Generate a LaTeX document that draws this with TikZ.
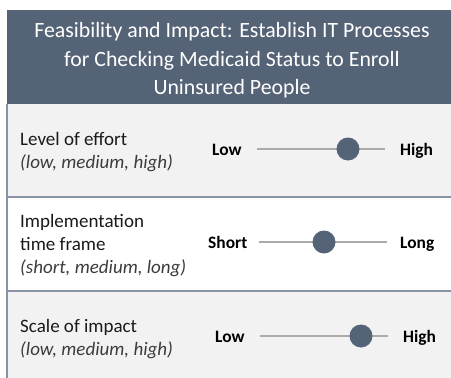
\documentclass[tikz,border=0pt]{standalone}
\usepackage{fontspec}
\setmainfont{Carlito}
\definecolor{hdr}{HTML}{556377}
\definecolor{rowgray}{HTML}{F2F2F2}
\definecolor{sepc}{HTML}{8794A8}
\definecolor{track}{HTML}{ABABAB}
\definecolor{txt}{HTML}{1A1A1A}
\begin{document}
\begin{tikzpicture}[x=1pt,y=-1pt,
  hdrtext/.style={text=white,font=\fontsize{21.8}{28.5}\selectfont,align=center,inner sep=0pt},
  lbl/.style={anchor=base west,text=txt,font=\fontsize{19}{23}\selectfont,inner sep=0pt},
  sub/.style={anchor=base west,text=txt!85,font=\fontsize{19}{23}\itshape\selectfont,inner sep=0pt},
  endlbl/.style={anchor=base west,text=black,font=\fontsize{17.4}{20}\bfseries\selectfont,inner sep=0pt},
  trackline/.style={draw=track,line width=1.5pt},
  knob/.style={circle,fill=hdr,minimum size=23pt,inner sep=0pt},
  sepline/.style={draw=sepc,line width=2pt}]
\useasboundingbox (0,0) rectangle (451,378);
% backgrounds
\fill[hdr] (7,10) rectangle (451,104);
\fill[rowgray] (7,104) rectangle (451,197);
\fill[white] (7,197) rectangle (451,291);
\fill[rowgray] (7,291) rectangle (451,378);
\draw[sepline] (7,197) -- (451,197);
\draw[sepline] (7,291) -- (451,291);
\draw[sepline] (7,104) -- (7,378);
% header
\node[hdrtext] (title) at (232,60.5) {Feasibility and Impact: Establish IT Processes\\for Checking Medicaid Status to Enroll\\Uninsured People};
% row 1
\node[lbl] (r1a) at (20,145) {Level of effort};
\node[sub] (r1b) at (20,168) {(low, medium, high)};
\node[endlbl] (r1lo) at (212,155) {Low};
\node[endlbl] (r1hi) at (400,155) {High};
\coordinate (r1s) at (257,149);
\coordinate (r1e) at (385,149);
\draw[trackline] (r1s) -- (r1e);
\node[knob] (r1k) at (348,149) {};
% row 2
\node[lbl] (r2a) at (20,227) {Implementation};
\node[lbl] (r2b) at (20,250) {time frame};
\node[sub] (r2c) at (20,273) {(short, medium, long)};
\node[endlbl] (r2lo) at (208,248) {Short};
\node[endlbl] (r2hi) at (400,248) {Long};
\coordinate (r2s) at (259,242);
\coordinate (r2e) at (387,242);
\draw[trackline] (r2s) -- (r2e);
\node[knob] (r2k) at (324,242) {};
% row 3
\node[lbl] (r3a) at (20,332) {Scale of impact};
\node[sub] (r3b) at (20,355) {(low, medium, high)};
\node[endlbl] (r3lo) at (215,342) {Low};
\node[endlbl] (r3hi) at (403,342) {High};
\coordinate (r3s) at (260,336);
\coordinate (r3e) at (388,336);
\draw[trackline] (r3s) -- (r3e);
\node[knob] (r3k) at (361,336) {};
\end{tikzpicture}
\end{document}
